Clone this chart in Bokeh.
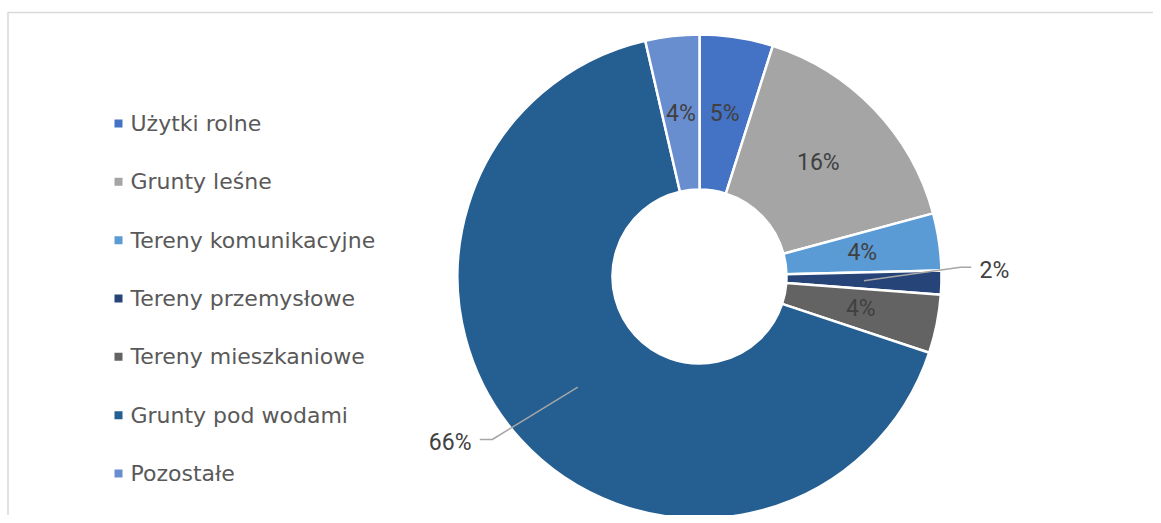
import math
from bokeh.plotting import figure
from bokeh.models import Range1d, ColumnDataSource
from bokeh.core.properties import value
from bokeh.embed import file_html
from bokeh.resources import INLINE

# ---- data ----
categories = ["Użytki rolne", "Grunty leśne", "Tereny komunikacyjne",
              "Tereny przemysłowe", "Tereny mieszkaniowe", "Grunty pod wodami", "Pozostałe"]
shares = [4.9, 15.9, 3.8, 1.6, 3.9, 66.3, 3.6]
colors = ["#4472C4", "#A5A5A5", "#5B9BD5", "#264478", "#636363", "#255E91", "#698ED0"]

# ---- layout (pixel space) ----
W, H = 1153, 515
cx, cy = 699, H - 276
R_OUT, R_IN = 242, 87
R_LAB = (R_OUT + R_IN) / 2
LEG_FONT = "DejaVu Sans"
LAB_FONT = "Roboto"

p = figure(width=W, height=H, x_range=Range1d(0, W), y_range=Range1d(0, H),
           output_backend="svg", toolbar_location=None, min_border=0,
           x_axis_location=None, y_axis_location=None)
p.grid.visible = False
p.outline_line_color = None
p.background_fill_color = "white"
p.border_fill_color = "white"

# frame (top and left edge of chart area)
p.line(x=[7.5, 7.5, W], y=[0, H - 12, H - 12], line_color="#D9D9D9", line_width=1.5)

total = sum(shares)
cum = 0.0
starts, ends, mids = [], [], []
for v in shares:
    f0 = cum / total
    cum += v
    f1 = cum / total
    starts.append(math.pi / 2 - 2 * math.pi * f1)
    ends.append(math.pi / 2 - 2 * math.pi * f0)
    mids.append(2 * math.pi * (f0 + f1) / 2)  # clockwise from top

src = ColumnDataSource(dict(start=starts, end=ends, color=colors, cat=categories))
p.annular_wedge(x=cx, y=cy, inner_radius=R_IN, outer_radius=R_OUT,
                start_angle="start", end_angle="end", direction="anticlock",
                fill_color="color", line_color="white", line_width=2.5, source=src)

labels = [f"{round(v / total * 100)}%" for v in shares]
outside = {3: dict(elbow=(261, 9.3), end=(271.7, 9.3), text=(280, 6), align="left"),
           5: dict(elbow=(-207.3, -163), end=(-219.7, -163), text=(-228, -165.7), align="right")}

in_x, in_y, in_t = [], [], []
for i, (lab, m) in enumerate(zip(labels, mids)):
    px = cx + R_LAB * math.sin(m)
    py = cy + R_LAB * math.cos(m)
    if i in outside:
        o = outside[i]
        p.line(x=[px, cx + o["elbow"][0], cx + o["end"][0]],
               y=[py, cy + o["elbow"][1], cy + o["end"][1]],
               line_color="#A6A6A6", line_width=1.5)
        p.text(x=[cx + o["text"][0]], y=[cy + o["text"][1]], text=[lab],
               text_align=o["align"], text_baseline="middle",
               text_font=value(LAB_FONT), text_font_size="23px", text_color="#404040")
    else:
        in_x.append(px); in_y.append(py); in_t.append(lab)

p.text(x=in_x, y=in_y, text=in_t, text_align="center", text_baseline="middle",
       text_font=value(LAB_FONT), text_font_size="23px", text_color="#404040")

# ---- legend (manual) ----
leg_top = H - 123
pitch = 58.33
leg_y = [leg_top - i * pitch for i in range(len(categories))]
p.scatter(x=[118] * len(categories), y=leg_y, marker="square", size=8,
          fill_color=colors, line_color=None)
p.text(x=[130] * len(categories), y=leg_y, text=categories, text_align="left",
       text_baseline="middle", text_font=value(LEG_FONT), text_font_size="22px",
       text_color="#595959")

open("out.html", "w").write(file_html(p, INLINE))
